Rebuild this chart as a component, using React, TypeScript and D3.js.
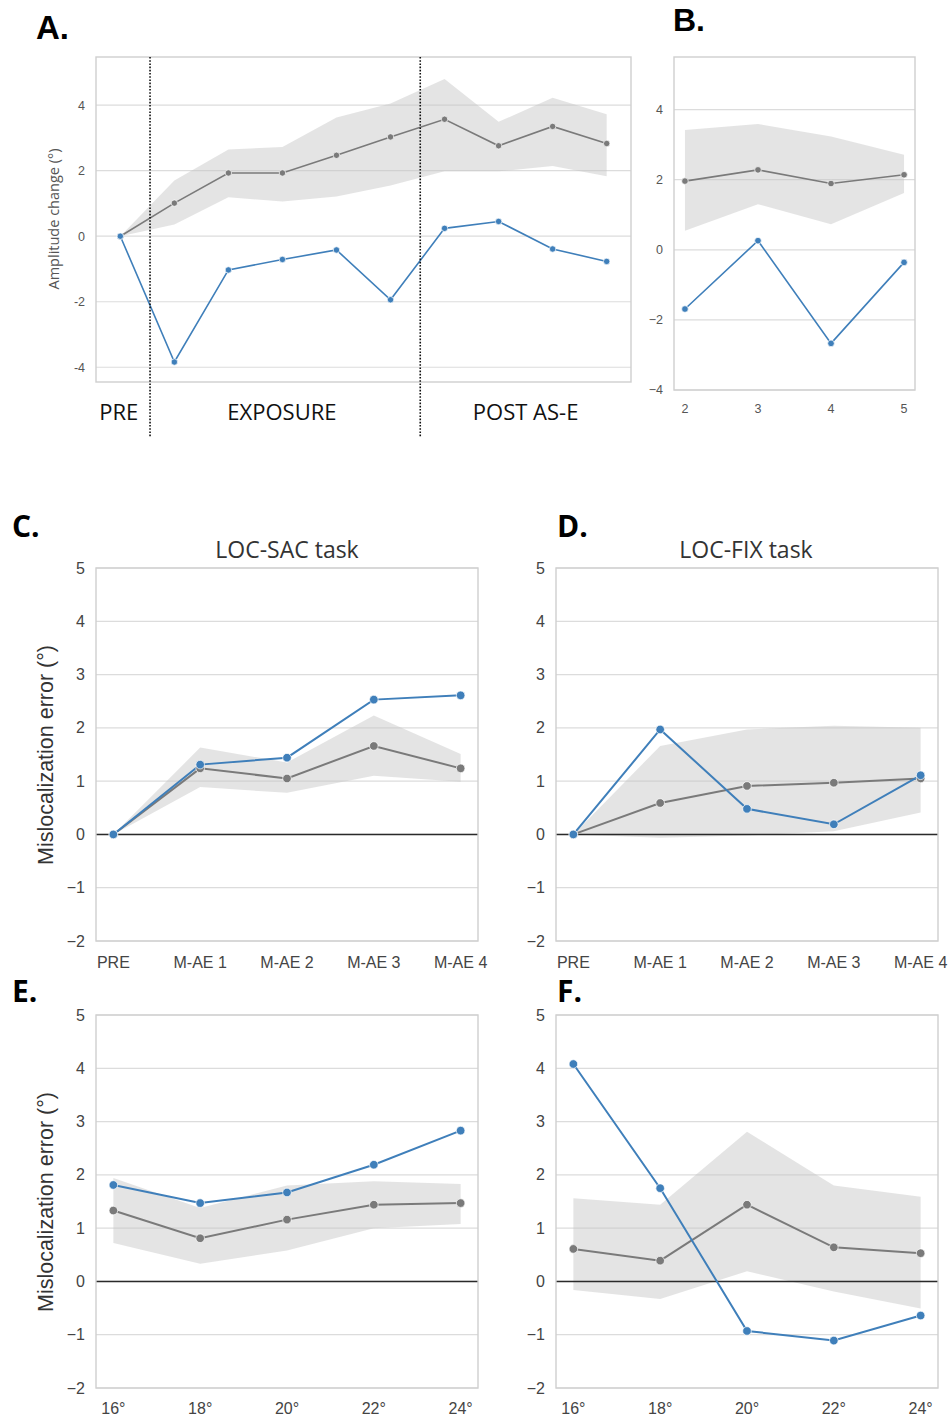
import React from "react";
import * as d3 from "d3";

// ---------- DATA ----------
// Panel A (amplitude change over blocks)
const aIndex = [0, 1, 2, 3, 4, 5, 6, 7, 8, 9];
const aGrayMean = [0, 1.01, 1.93, 1.93, 2.47, 3.03, 3.57, 2.76, 3.35, 2.83];
const aGrayUpper = [0, 1.7, 2.65, 2.72, 3.62, 4.05, 4.8, 3.49, 4.23, 3.72];
const aGrayLower = [0, 0.36, 1.19, 1.06, 1.21, 1.55, 1.98, 1.98, 2.14, 1.83];
const aBlue = [0, -3.84, -1.03, -0.71, -0.42, -1.94, 0.24, 0.45, -0.39, -0.77];
const aYTicks = [-4, -2, 0, 2, 4];
const aDividers = [0.55, 5.55];
const aPhaseLabels = ["PRE", "EXPOSURE", "POST AS-E"];
const aPhaseCenters = [-0.03, 2.99, 7.5];

// Panel B
const bIndex = [2, 3, 4, 5];
const bGrayMean = [1.96, 2.28, 1.89, 2.14];
const bGrayUpper = [3.42, 3.59, 3.23, 2.71];
const bGrayLower = [0.54, 1.3, 0.73, 1.62];
const bBlue = [-1.69, 0.26, -2.67, -0.36];
const bYTicks = [-4, -2, 0, 2, 4];
const bXTicks = [2, 3, 4, 5];

// Panels C, D
const cdCategories = ["PRE", "M-AE 1", "M-AE 2", "M-AE 3", "M-AE 4"];
const cGrayMean = [0, 1.24, 1.05, 1.66, 1.24];
const cGrayUpper = [0, 1.63, 1.35, 2.23, 1.51];
const cGrayLower = [0, 0.89, 0.78, 1.1, 0.99];
const cBlue = [0, 1.31, 1.44, 2.53, 2.61];

const dGrayMean = [0, 0.59, 0.91, 0.97, 1.05];
const dGrayUpper = [0, 1.66, 1.97, 2.04, 2.0];
const dGrayLower = [0, -0.06, -0.02, 0.06, 0.41];
const dBlue = [0, 1.97, 0.48, 0.19, 1.11];

// Panels E, F
const efCategories = ["16°", "18°", "20°", "22°", "24°"];
const eGrayMean = [1.33, 0.81, 1.16, 1.44, 1.47];
const eGrayUpper = [1.94, 1.38, 1.8, 1.88, 1.83];
const eGrayLower = [0.72, 0.33, 0.58, 1.0, 1.08];
const eBlue = [1.81, 1.47, 1.67, 2.19, 2.83];

const fGrayMean = [0.61, 0.39, 1.44, 0.64, 0.53];
const fGrayUpper = [1.56, 1.44, 2.81, 1.8, 1.59];
const fGrayLower = [-0.16, -0.33, 0.19, -0.19, -0.51];
const fBlue = [4.08, 1.75, -0.93, -1.11, -0.64];

const cfYTicks = [-2, -1, 0, 1, 2, 3, 4, 5];

// ---------- STYLE ----------
const BLUE = "#3f7fba";
const GRAY = "#7a7a7a";
const BAND = "#c4c4c4";
const GRID = "#dcdcdc";
const FRAME = "#cfcfcf";
const SANS = "'Liberation Sans', Arial, sans-serif";
const CAL = "'Open Sans', 'Noto Sans', sans-serif";

type PanelProps = {
  left: number;
  right: number;
  top: number;
  bottom: number;
  xDomain: [number, number];
  yDomain: [number, number];
  xs: number[];
  mean: number[];
  upper: number[];
  lower: number[];
  blue: number[];
  yTicks: number[];
  yFmt: (v: number) => string;
  tickSize: number;
  tickColor: string;
  xTickLabels?: string[];
  xTickOffset?: number;
  zeroLine?: boolean;
  markerR: number;
  lineW: number;
};

function Panel(p: PanelProps) {
  const x = d3.scaleLinear().domain(p.xDomain).range([p.left, p.right]);
  const y = d3.scaleLinear().domain(p.yDomain).range([p.bottom, p.top]);
  const pts = p.xs.map((v, i) => i);
  const area = d3
    .area<number>()
    .x((i) => x(p.xs[i]))
    .y0((i) => y(p.lower[i]))
    .y1((i) => y(p.upper[i]));
  const lineOf = (vals: number[]) =>
    d3
      .line<number>()
      .x((i) => x(p.xs[i]))
      .y((i) => y(vals[i]))(pts) || "";
  return (
    <g>
      {p.yTicks.map((t) => (
        <line key={"g" + t} x1={p.left} x2={p.right} y1={y(t)} y2={y(t)} stroke={GRID} strokeWidth={1.2} />
      ))}
      <path d={area(pts) || ""} fill={BAND} fillOpacity={0.45} stroke="none" />
      {p.zeroLine && (
        <line x1={p.left} x2={p.right} y1={y(0)} y2={y(0)} stroke="#2a2a2a" strokeWidth={1.6} />
      )}
      <path d={lineOf(p.mean)} fill="none" stroke={GRAY} strokeWidth={p.lineW} />
      <path d={lineOf(p.blue)} fill="none" stroke={BLUE} strokeWidth={p.lineW} />
      {pts.map((i) => (
        <circle key={"m" + i} cx={x(p.xs[i])} cy={y(p.mean[i])} r={p.markerR} fill={GRAY} stroke="#fff" strokeWidth={0.7} />
      ))}
      {pts.map((i) => (
        <circle key={"b" + i} cx={x(p.xs[i])} cy={y(p.blue[i])} r={p.markerR} fill={BLUE} stroke="#fff" strokeWidth={0.7} />
      ))}
      <rect x={p.left} y={p.top} width={p.right - p.left} height={p.bottom - p.top} fill="none" stroke={FRAME} strokeWidth={1.4} />
      {p.yTicks.map((t) => (
        <text
          key={"t" + t}
          x={p.left - 11}
          y={y(t)}
          dy="0.35em"
          textAnchor="end"
          fontFamily={SANS}
          fontSize={p.tickSize}
          fill={p.tickColor}
        >
          {p.yFmt(t)}
        </text>
      ))}
      {p.xTickLabels &&
        p.xTickLabels.map((lab, i) => (
          <text
            key={"x" + i}
            x={x(p.xs[i])}
            y={p.bottom + (p.xTickOffset || 24)}
            textAnchor="middle"
            fontFamily={SANS}
            fontSize={p.tickSize}
            fill={p.tickColor}
          >
            {lab}
          </text>
        ))}
    </g>
  );
}

const minusFmt = (v: number) => (v < 0 ? "\u2212" + Math.abs(v) : String(v));
const hyphenFmt = (v: number) => String(v);

export default function App() {
  const cdIdx = cdCategories.map((_, i) => i);
  const efIdx = efCategories.map((_, i) => i);
  const axA = d3.scaleLinear().domain([-0.45, 9.45]).range([96, 631]);
  return (
    <svg
      width={951}
      height={1423}
      style={{ position: "absolute", left: 0, top: 0, background: "#fff" }}
    >
      <rect x={0} y={0} width={951} height={1423} fill="#fff" />

      {/* Panel A */}
      <Panel
        left={96}
        right={631}
        top={57}
        bottom={382}
        xDomain={[-0.45, 9.45]}
        yDomain={[-4.45, 5.47]}
        xs={aIndex}
        mean={aGrayMean}
        upper={aGrayUpper}
        lower={aGrayLower}
        blue={aBlue}
        yTicks={aYTicks}
        yFmt={hyphenFmt}
        tickSize={12.5}
        tickColor="#555"
        markerR={3.2}
        lineW={1.6}
      />
      {aDividers.map((d) => (
        <line key={"dv" + d} x1={axA(d)} x2={axA(d)} y1={57} y2={437} stroke="#111" strokeWidth={1.6} strokeDasharray="1.6,1.6" />
      ))}
      {aPhaseLabels.map((lab, i) => (
        <text key={lab} x={axA(aPhaseCenters[i])} y={420} textAnchor="middle" fontFamily={CAL} fontSize={22} fill="#111">
          {lab}
        </text>
      ))}
      <text transform="translate(59,219) rotate(-90)" textAnchor="middle" fontFamily={CAL} fontSize={14.5} fill="#555">
        Amplitude change (°)
      </text>
      <text x={36} y={39} fontFamily={SANS} fontWeight="bold" fontSize={33} fill="#000">A.</text>

      {/* Panel B */}
      <Panel
        left={674}
        right={915}
        top={57}
        bottom={390}
        xDomain={[1.85, 5.15]}
        yDomain={[-4, 5.5]}
        xs={bIndex}
        mean={bGrayMean}
        upper={bGrayUpper}
        lower={bGrayLower}
        blue={bBlue}
        yTicks={bYTicks}
        yFmt={minusFmt}
        tickSize={12.5}
        tickColor="#555"
        xTickLabels={bXTicks.map(String)}
        xTickOffset={23}
        markerR={3.3}
        lineW={1.6}
      />
      <text x={673} y={31} fontFamily={SANS} fontWeight="bold" fontSize={32} fill="#000">B.</text>

      {/* Panel C */}
      <Panel
        left={96}
        right={478}
        top={568}
        bottom={941}
        xDomain={[-0.2, 4.2]}
        yDomain={[-2, 5]}
        xs={cdIdx}
        mean={cGrayMean}
        upper={cGrayUpper}
        lower={cGrayLower}
        blue={cBlue}
        yTicks={cfYTicks}
        yFmt={minusFmt}
        tickSize={16}
        tickColor="#444"
        xTickLabels={cdCategories}
        xTickOffset={27}
        zeroLine
        markerR={4.3}
        lineW={2}
      />
      <text x={287} y={558} textAnchor="middle" fontFamily={CAL} fontSize={23} fill="#333">LOC-SAC task</text>
      <text transform="translate(53,755) rotate(-90)" textAnchor="middle" fontFamily={SANS} fontSize={21.5} fill="#333">
        Mislocalization error (°)
      </text>
      <text x={12} y={537} fontFamily={CAL} fontWeight="bold" fontSize={30} fill="#000">C.</text>

      {/* Panel D */}
      <Panel
        left={556}
        right={938}
        top={568}
        bottom={941}
        xDomain={[-0.2, 4.2]}
        yDomain={[-2, 5]}
        xs={cdIdx}
        mean={dGrayMean}
        upper={dGrayUpper}
        lower={dGrayLower}
        blue={dBlue}
        yTicks={cfYTicks}
        yFmt={minusFmt}
        tickSize={16}
        tickColor="#444"
        xTickLabels={cdCategories}
        xTickOffset={27}
        zeroLine
        markerR={4.3}
        lineW={2}
      />
      <text x={746} y={558} textAnchor="middle" fontFamily={CAL} fontSize={23} fill="#333">LOC-FIX task</text>
      <text x={557} y={537} fontFamily={CAL} fontWeight="bold" fontSize={30} fill="#000">D.</text>

      {/* Panel E */}
      <Panel
        left={96}
        right={478}
        top={1015}
        bottom={1388}
        xDomain={[-0.2, 4.2]}
        yDomain={[-2, 5]}
        xs={efIdx}
        mean={eGrayMean}
        upper={eGrayUpper}
        lower={eGrayLower}
        blue={eBlue}
        yTicks={cfYTicks}
        yFmt={minusFmt}
        tickSize={16}
        tickColor="#444"
        xTickLabels={efCategories}
        xTickOffset={26}
        zeroLine
        markerR={4.3}
        lineW={2}
      />
      <text transform="translate(53,1202) rotate(-90)" textAnchor="middle" fontFamily={SANS} fontSize={21.5} fill="#333">
        Mislocalization error (°)
      </text>
      <text x={12} y={1002} fontFamily={CAL} fontWeight="bold" fontSize={30} fill="#000">E.</text>

      {/* Panel F */}
      <Panel
        left={556}
        right={938}
        top={1015}
        bottom={1388}
        xDomain={[-0.2, 4.2]}
        yDomain={[-2, 5]}
        xs={efIdx}
        mean={fGrayMean}
        upper={fGrayUpper}
        lower={fGrayLower}
        blue={fBlue}
        yTicks={cfYTicks}
        yFmt={minusFmt}
        tickSize={16}
        tickColor="#444"
        xTickLabels={efCategories}
        xTickOffset={26}
        zeroLine
        markerR={4.3}
        lineW={2}
      />
      <text x={557} y={1002} fontFamily={CAL} fontWeight="bold" fontSize={30} fill="#000">F.</text>
    </svg>
  );
}
